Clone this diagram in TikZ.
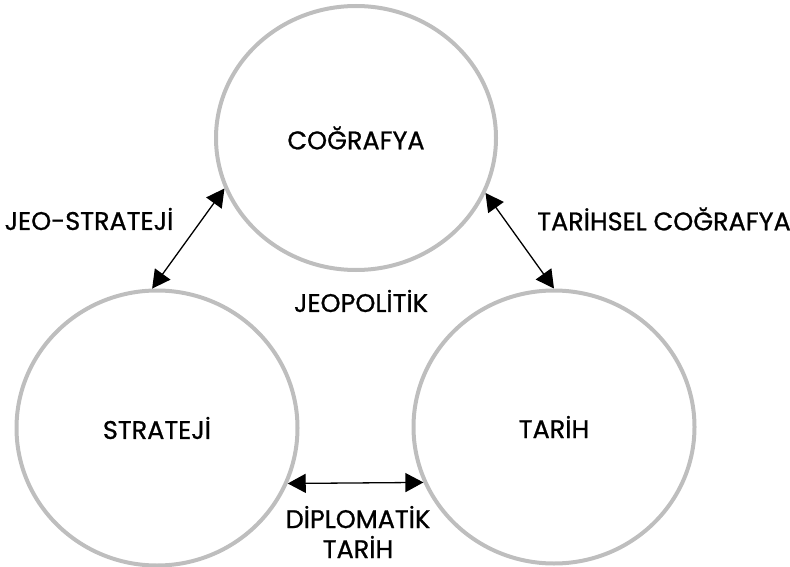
\documentclass[tikz,border=0pt]{standalone}
\usepackage{fontspec}
\setmainfont{Poppins}[RawFeature={embolden=0.9}]
\usepackage{tikz}
\usetikzlibrary{shapes.geometric, arrows.meta}
\definecolor{ringgray}{RGB}{190,190,190}
\tikzstyle{ring} = [ellipse,draw=ringgray,line width=4pt,inner sep=0pt]
\tikzstyle{arrow} = [line width=1.3pt,{Triangle[length=18pt,width=19pt]}-{Triangle[length=18pt,width=19pt]}]
\tikzstyle{lbl} = [font=\fontsize{25.5}{30}\selectfont,inner sep=0pt]

\begin{document}
\begin{tikzpicture}[x=1pt,y=-1pt,line cap=round,line join=round]
    \useasboundingbox (0,0) rectangle (790,567);
    % the three fields
    \node[ring,lbl,minimum width=280pt,minimum height=264pt] (cog) at (356,138) {COĞRAFYA};
    \node[ring,lbl,minimum width=281pt,minimum height=275pt] (str) at (157,428) {STRATEJİ};
    \node[ring,lbl,minimum width=281pt,minimum height=273pt] (tar) at (554,427) {TARİH};
    % links between them
    \node[lbl] (jeostr) at (89,219) {JEO-STRATEJİ};
    \node[lbl] (tarcog) at (664,219) {TARİHSEL COĞRAFYA};
    \node[lbl] (jeopol) at (361,301) {JEOPOLİTİK};
    \node[lbl,align=center] (diptar) at (358,532) {DİPLOMATİK\\TARİH};
    \draw[arrow] (cog.201) -- (str.92);
    \draw[arrow] (cog.337) -- (tar.90);
    \draw[arrow] (str.-23) -- (tar.203);
\end{tikzpicture}
\end{document}
